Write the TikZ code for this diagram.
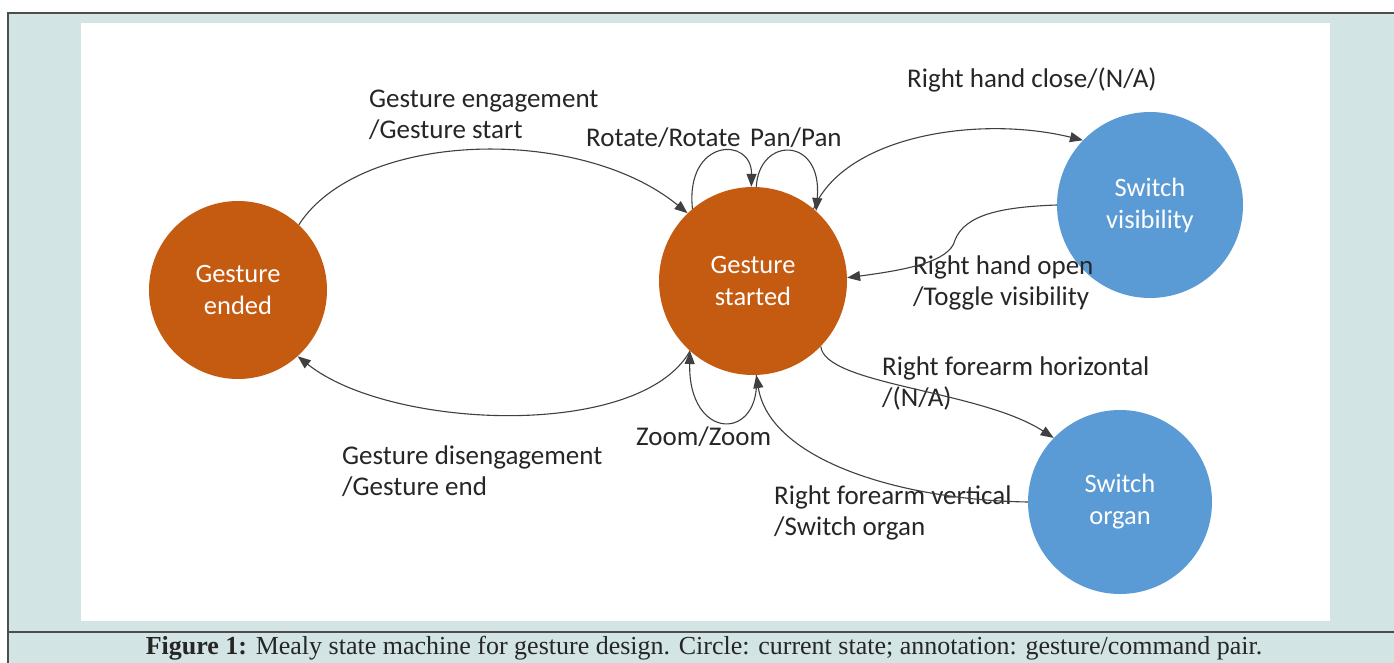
\documentclass[tikz,border=0pt]{standalone}
\usepackage{fontspec}
\setmainfont{Liberation Serif}
\newfontfamily\calibri{Carlito}
\usepackage{xcolor}
\usepackage{tikz}
\usetikzlibrary{shapes.geometric, arrows.meta}
\definecolor{stateorange}{HTML}{C55A11}
\definecolor{stateblue}{HTML}{5B9BD5}
\definecolor{framebg}{HTML}{D2E4E3}
\definecolor{frameline}{HTML}{4D4D4D}
\definecolor{labelgray}{HTML}{262626}
\tikzstyle{gesturestate} = [circle, minimum size=188pt, inner sep=0pt, align=center, text=white, fill=stateorange, font=\calibri\fontsize{26.5}{32}\selectfont]
\tikzstyle{switchstate} = [circle, minimum size=186pt, inner sep=0pt, align=center, text=white, fill=stateblue, font=\calibri\fontsize{26.5}{32}\selectfont]
\tikzstyle{pairlabel} = [anchor=west, align=left, inner sep=0pt, text=labelgray, font=\calibri\fontsize{27}{31}\selectfont]
\tikzset{arw/.style={-{Triangle[length=13pt,width=10pt]}, line width=1.1pt, draw=black!75}}

\begin{document}
\begin{tikzpicture}[x=1pt, y=-1pt, node distance=400pt]
			\useasboundingbox (0,0) rectangle (1394,663);
			\fill[white] (0,0) rectangle (1394,663);
			\fill[framebg] (8,13) rectangle (1394,663);
			\draw[frameline, line width=2pt] (8,663) -- (8,13) -- (1394,13);
			\draw[frameline, line width=1.5pt] (8,632) -- (1394,632);
			\fill[white] (81,23) rectangle (1330,621);
			
			\node (ended) [gesturestate, minimum size=178pt] at (238,290) {Gesture\\ended};
			\node (started) [gesturestate, right of = ended, xshift = 115pt, yshift = 9pt] {Gesture\\started};
			\node (visib) [switchstate, right of = started, xshift = -3pt, yshift = 76pt] {Switch\\visibility};
			\node (organ) [switchstate, minimum size=184pt, right of = started, xshift = -33pt, yshift = -221pt] {Switch\\organ};
			
			\node (engage) [pairlabel] at (369,115) {Gesture engagement\\/Gesture start};
			\node (rotate) [pairlabel] at (586,138) {Rotate/Rotate};
			\node (pan) [pairlabel] at (750,138) {Pan/Pan};
			\node (close) [pairlabel] at (907,80) {Right hand close/(N/A)};
			\node (open) [pairlabel] at (913,283) {Right hand open\\/Toggle visibility};
			\node (horiz) [pairlabel] at (882,383) {Right forearm horizontal\\/(N/A)};
			\node (zoom) [pairlabel] at (636,437) {Zoom/Zoom};
			\node (disengage) [pairlabel] at (342,471) {Gesture disengagement\\/Gesture end};
			\node (vert) [pairlabel] at (774,513) {Right forearm vertical\\/Switch organ};
			
			\node (caption) at (704,648) {\fontsize{26}{28}\selectfont\color{labelgray}\textbf{Figure 1:} Mealy state machine for gesture design. Circle: current state; annotation: gesture/command pair.};
			
			\draw [arw] (ended.47) .. controls (360,130) and (580,125) .. (started.134);
			\draw [arw] (started.228) .. controls (640,440) and (390,430) .. (ended.-48);
			\draw [arw] (started.130) .. controls (685,138) and (752,136) .. (started.91);
			\draw [arw] (started.88) .. controls (759,136) and (823,136) .. (started.48);
			\draw [arw] (started.272) .. controls (762,442) and (688,442) .. (started.228);
			\draw [arw] (started.50) .. controls (845,135) and (980,115) .. (visib.136);
			\draw [arw] (visib.180) .. controls (1000,207) and (965,215) .. (955,240) .. controls (950,262) and (905,270) .. (started.2);
			\draw [arw] (started.316) .. controls (825,385) and (980,390) .. (organ.136);
			\draw [arw] (organ.180) .. controls (900,500) and (770,460) .. (started.272);
			
\end{tikzpicture}
\end{document}
